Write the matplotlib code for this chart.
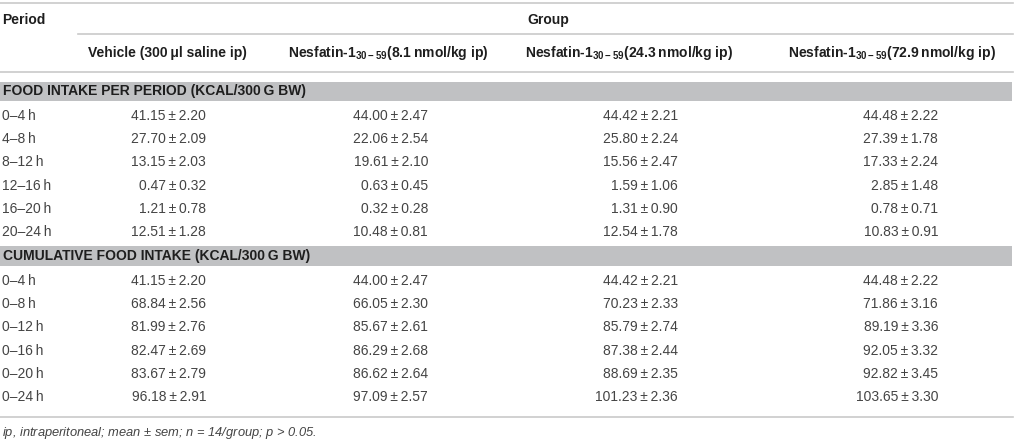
import matplotlib.pyplot as plt

plt.rcParams['font.family'] = ['Liberation Sans', 'DejaVu Sans']
plt.rcParams['mathtext.default'] = 'regular'

# table contents
groups = ['Vehicle (300\u2009\u03bcl saline ip)',
          'Nesfatin-1$_{30-59}$(8.1\u2009nmol/kg ip)',
          'Nesfatin-1$_{30-59}$(24.3\u2009nmol/kg ip)',
          'Nesfatin-1$_{30-59}$(72.9\u2009nmol/kg ip)']
section_titles = ['FOOD INTAKE PER PERIOD (KCAL/300\u2009G BW)',
                  'CUMULATIVE FOOD INTAKE (KCAL/300\u2009G BW)']
periods = ['0\u20134\u2009h', '4\u20138\u2009h', '8\u201312\u2009h',
           '12\u201316\u2009h', '16\u201320\u2009h', '20\u201324\u2009h']
cum_periods = ['0\u20134\u2009h', '0\u20138\u2009h', '0\u201312\u2009h',
               '0\u201316\u2009h', '0\u201320\u2009h', '0\u201324\u2009h']

# food intake per period: mean, sem
veh_mean = [41.15, 27.70, 13.15, 0.47, 1.21, 12.51]
veh_sem = [2.20, 2.09, 2.03, 0.32, 0.78, 1.28]
n8_mean = [44.00, 22.06, 19.61, 0.63, 0.32, 10.48]
n8_sem = [2.47, 2.54, 2.10, 0.45, 0.28, 0.81]
n24_mean = [44.42, 25.80, 15.56, 1.59, 1.31, 12.54]
n24_sem = [2.21, 2.24, 2.47, 1.06, 0.90, 1.78]
n72_mean = [44.48, 27.39, 17.33, 2.85, 0.78, 10.83]
n72_sem = [2.22, 1.78, 2.24, 1.48, 0.71, 0.91]

# cumulative food intake: mean, sem
veh_cum = [41.15, 68.84, 81.99, 82.47, 83.67, 96.18]
veh_cum_sem = [2.20, 2.56, 2.76, 2.69, 2.79, 2.91]
n8_cum = [44.00, 66.05, 85.67, 86.29, 86.62, 97.09]
n8_cum_sem = [2.47, 2.30, 2.61, 2.68, 2.64, 2.57]
n24_cum = [44.42, 70.23, 85.79, 87.38, 88.69, 101.23]
n24_cum_sem = [2.21, 2.33, 2.74, 2.44, 2.35, 2.36]
n72_cum = [44.48, 71.86, 89.19, 92.05, 92.82, 103.65]
n72_cum_sem = [2.22, 3.16, 3.36, 3.32, 3.45, 3.30]

footnote = 'ip, intraperitoneal; mean \u00b1 sem; $n$ = 14/group; $p$ > 0.05.'

fig = plt.figure(figsize=(10.16, 4.41), dpi=100)
ax = fig.add_axes([0, 0, 1, 1])
ax.set_xlim(0, 1016)
ax.set_ylim(441, 0)
ax.axis('off')

line_c = '#c9c9c9'
band_c = '#c0c1c3'
txt_c = '#444444'
head_c = '#1e1e1e'
fs = 10

# rules
ax.plot([0, 1013], [3, 3], color=line_c, lw=1.2)
ax.plot([78, 1013], [34, 34], color=line_c, lw=1.2)
ax.plot([0, 1013], [72, 72], color=line_c, lw=1.2)
ax.plot([0, 1013], [417, 417], color=line_c, lw=1.2)

ax.text(2, 20, 'Period', fontsize=fs, fontweight='bold', color=head_c, va='center')
ax.text(527, 20, 'Group', fontsize=fs, fontweight='bold', color=head_c, va='center')

head_x = [88, 288, 525, 788]
val_x = [206, 428, 678, 938]
for x, g in zip(head_x, groups):
    ax.text(x, 53, g, fontsize=fs, fontweight='bold', color=head_c, va='center')


def section(y_band, title, labels, cols, y_first):
    ax.fill_between([0, 1012], y_band[0], y_band[1], color=band_c, lw=0)
    ax.text(3, (y_band[0] + y_band[1]) / 2, title, fontsize=fs, fontweight='bold',
            color=head_c, va='center')
    step = 23.2
    for i, lab in enumerate(labels):
        y = y_first + i * step
        ax.text(2, y, lab, fontsize=fs, color=txt_c, va='center')
        for x, (m, s) in zip(val_x, cols):
            ax.text(x, y, f'{m[i]:.2f}\u2009\u00b1\u2009{s[i]:.2f}', fontsize=fs,
                    color=txt_c, va='center', ha='right')


section((82, 101), section_titles[0], periods,
        [(veh_mean, veh_sem), (n8_mean, n8_sem), (n24_mean, n24_sem), (n72_mean, n72_sem)],
        116)
section((246, 266), section_titles[1], cum_periods,
        [(veh_cum, veh_cum_sem), (n8_cum, n8_cum_sem), (n24_cum, n24_cum_sem),
         (n72_cum, n72_cum_sem)],
        281)

ax.text(2, 433, footnote, fontsize=9.3, style='italic', color=txt_c, va='center')

fig.savefig('out.png', dpi=100)
